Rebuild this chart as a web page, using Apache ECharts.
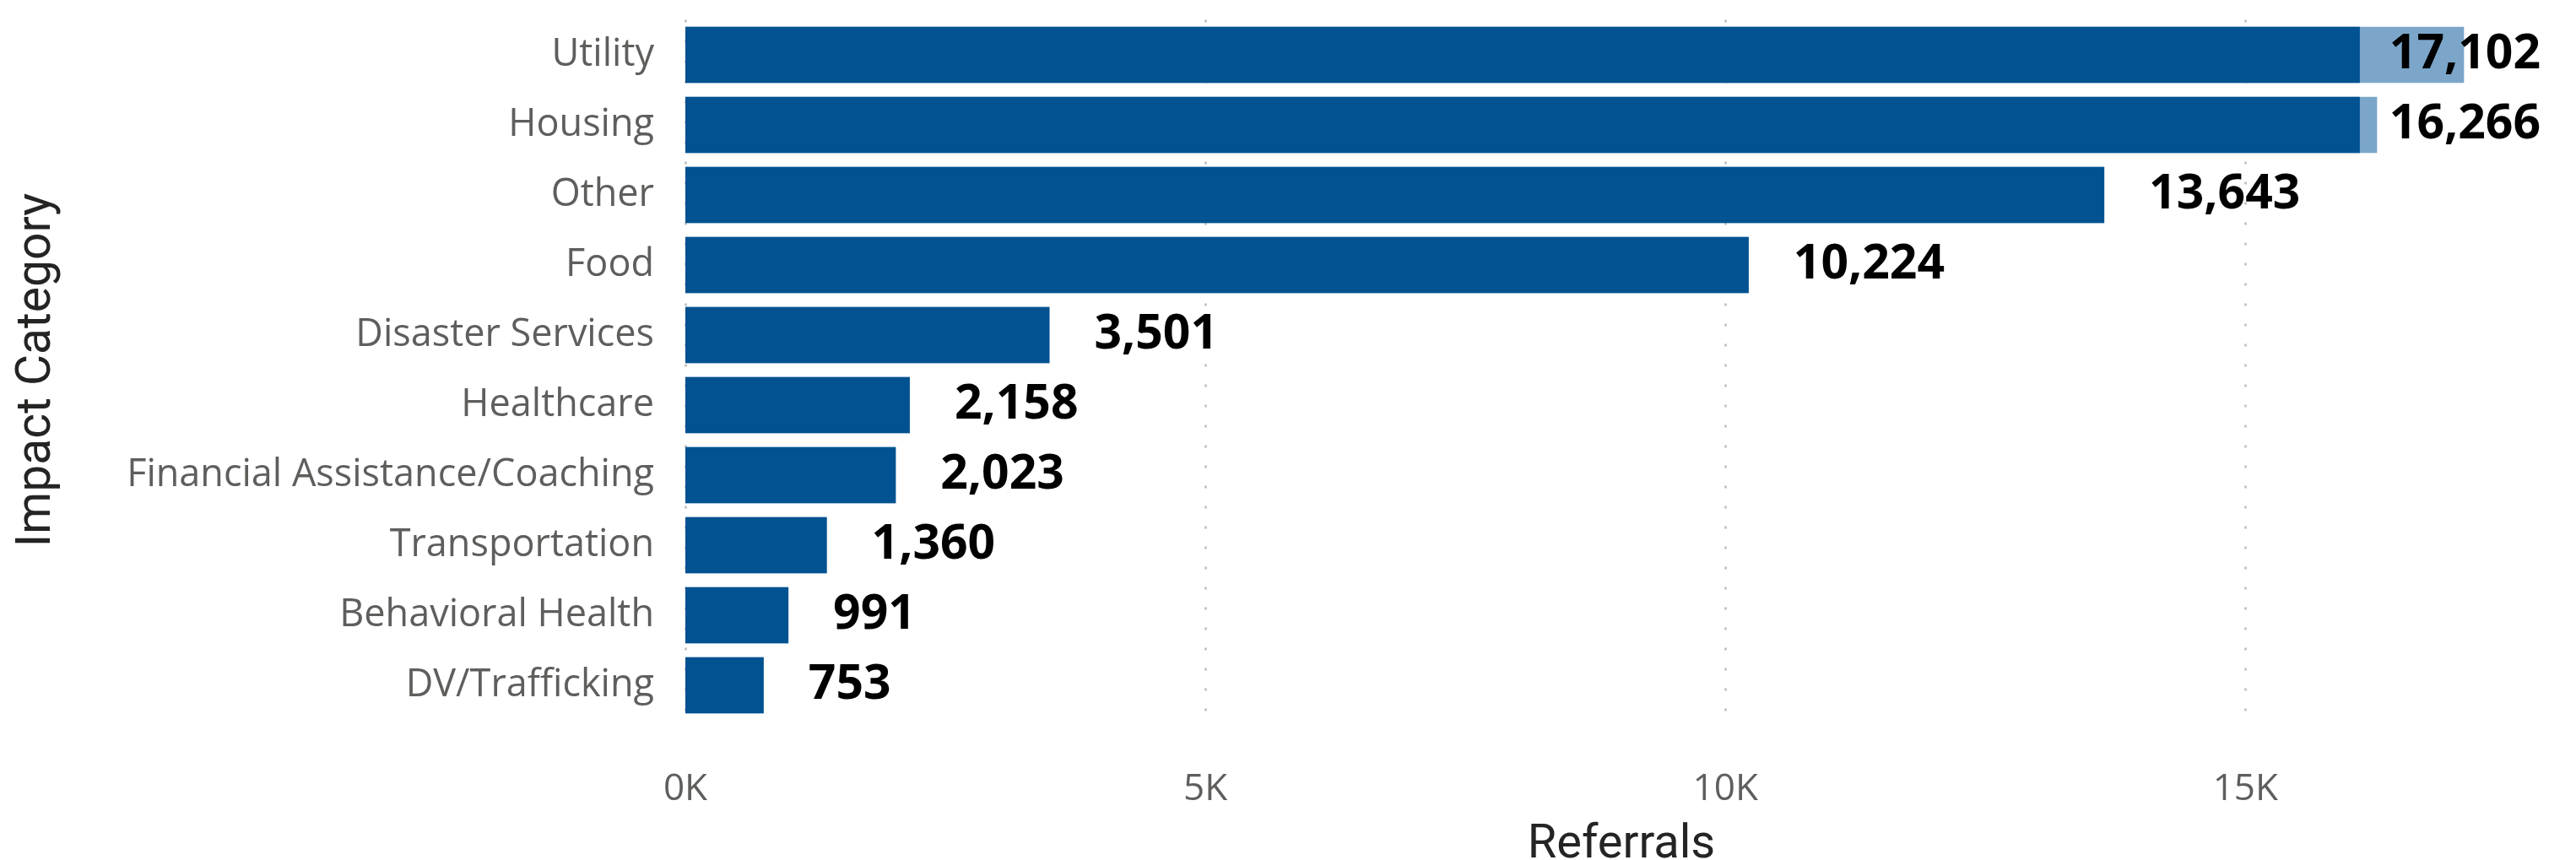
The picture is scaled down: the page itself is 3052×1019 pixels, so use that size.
<!DOCTYPE html>
<html>
<head>
<meta charset="utf-8">
<script src="https://cdn.jsdelivr.net/npm/echarts@6/dist/echarts.min.js"></script>
<style>
html,body{margin:0;padding:0;background:#fff;}
#chart{width:3052px;height:1019px;}
</style>
</head>
<body>
<div id="chart"></div>
<script>
// ---- data ----
var categories = ['Utility','Housing','Other','Food','Disaster Services','Healthcare','Financial Assistance/Coaching','Transportation','Behavioral Health','DV/Trafficking'];
var totalReferrals = [17102, 16266, 13643, 10224, 3501, 2158, 2023, 1360, 991, 753];
var baseReferrals  = [16100, 16100, 13643, 10224, 3501, 2158, 2023, 1360, 991, 753];
var tickValues = [0, 5000, 10000, 15000];
var tickLabels = ['0K', '5K', '10K', '15K'];

var chart = echarts.init(document.getElementById('chart'), null, {renderer: 'canvas'});
var LABEL_LIMIT = 3010;

var option = {
  backgroundColor: '#ffffff',
  animation: false,
  grid: {left: 812, top: 23.5, width: 2218, height: 830, containLabel: false, outerBoundsMode: 'none'},
  xAxis: {
    type: 'value', min: 0, max: 18000, interval: 5000,
    name: 'Referrals', nameLocation: 'middle', nameGap: 120,
    nameTextStyle: {fontFamily: 'Roboto', fontSize: 56, color: '#252423'},
    axisLine: {show: false}, axisTick: {show: false},
    axisLabel: {
      margin: 60, fontFamily: 'Open Sans', fontSize: 44, color: '#605E5C', showMaxLabel: false,
      formatter: function (v) { var i = tickValues.indexOf(v); return i >= 0 ? tickLabels[i] : ''; }
    },
    splitLine: {show: true, showMaxLine: false, lineStyle: {color: '#C8C6C4', width: 3, type: [3, 21]}}
  },
  yAxis: {
    type: 'category', data: categories, inverse: true,
    name: 'Impact Category', nameLocation: 'middle', nameGap: 739, nameRotate: 90,
    nameTextStyle: {fontFamily: 'Roboto', fontSize: 57, color: '#252423'},
    axisLine: {show: false}, axisTick: {show: false},
    axisLabel: {margin: 37, fontFamily: 'Open Sans', fontSize: 45, color: '#605E5C'},
    splitLine: {show: false}
  },
  series: [
    {
      name: 'Total', type: 'bar', data: totalReferrals, barCategoryGap: '20%', barGap: '-100%',
      itemStyle: {color: '#7BA6CA'},
      label: {
        show: true, position: 'right', distance: 53,
        fontFamily: 'Open Sans', fontWeight: 'bold', fontSize: 57, color: '#000000',
        formatter: function (p) { return p.value.toLocaleString('en-US'); }
      },
      labelLayout: function (p) {
        var r = p.labelRect;
        if (r.x + r.width > LABEL_LIMIT) { return {dx: LABEL_LIMIT - (r.x + r.width)}; }
        return {};
      },
      z: 2
    },
    {
      name: 'Base', type: 'bar', data: baseReferrals, barCategoryGap: '20%', barGap: '-100%',
      itemStyle: {color: '#005291'},
      z: 3
    }
  ]
};
chart.setOption(option);
</script>
</body>
</html>
